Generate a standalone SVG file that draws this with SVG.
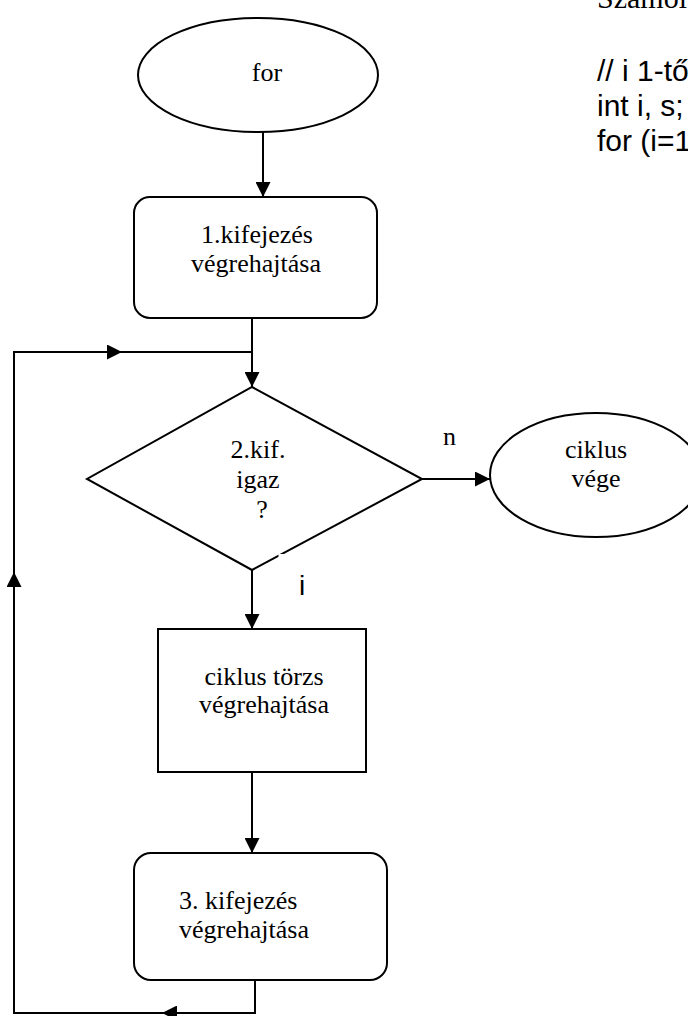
<svg xmlns="http://www.w3.org/2000/svg" width="688" height="1016" viewBox="0 0 688 1016">
  <style>
    .shape { fill: #ffffff; stroke: #000000; stroke-width: 2; }
    .line { fill: none; stroke: #000000; stroke-width: 2; }
    .label { font-family: "Liberation Serif", "Times New Roman", serif; font-size: 26px; fill: #000000; }
    .mid { text-anchor: middle; }
    .code { font-family: "Liberation Sans", Arial, sans-serif; font-size: 30px; fill: #000000; }
    .body { font-family: "Liberation Serif", "Times New Roman", serif; font-size: 30px; fill: #000000; }
  </style>
  <defs>
    <marker id="arrow" viewBox="0 0 15 15" refX="15" refY="7.5" markerWidth="15" markerHeight="15" markerUnits="userSpaceOnUse" orient="auto">
      <path d="M0,0 L15,7.5 L0,15 z" fill="#000000"/>
    </marker>
  </defs>

  <rect width="688" height="1016" fill="#ffffff"/>

  <!-- side text -->
  <g id="side-text">
    <text class="body" x="597" y="8">Számol</text>
    <text class="code" x="597" y="81">// i 1-tő</text>
    <text class="code" x="597" y="116">int i, s;</text>
    <text class="code" x="597" y="151">for (i=1</text>
  </g>

  <!-- connectors -->
  <g id="connectors">
    <path class="line" d="M263,132 L263,197" marker-end="url(#arrow)"/>
    <path class="line" d="M252,318 L252,387" marker-end="url(#arrow)"/>
    <path class="line" d="M422,479 L490,479" marker-end="url(#arrow)"/>
    <path class="line" d="M252,570 L252,629" marker-end="url(#arrow)"/>
    <path class="line" d="M252,772 L252,853" marker-end="url(#arrow)"/>
    <!-- loop back from step 3 to the condition -->
    <path class="line" d="M255,980 L255,1013 L162,1013" marker-end="url(#arrow)"/>
    <path class="line" d="M162,1013 L14,1013 L14,572" marker-end="url(#arrow)"/>
    <path class="line" d="M14,572 L14,352 L122,352" marker-end="url(#arrow)"/>
    <path class="line" d="M122,352 L252,352"/>
  </g>

  <g id="start">
    <ellipse class="shape" cx="258" cy="75" rx="120" ry="57"/>
    <text class="label mid" x="267" y="81">for</text>
  </g>

  <g id="init">
    <rect class="shape" x="134" y="197" width="243" height="121" rx="16" ry="16"/>
    <text class="label mid" x="257" y="243">1.kifejezés</text>
    <text class="label mid" x="256" y="272">végrehajtása</text>
  </g>

  <g id="condition">
    <polygon class="shape" points="252,387 422,479 252,570 87,479"/>
    <text class="label mid" x="258" y="458">2.kif.</text>
    <text class="label mid" x="258" y="488">igaz</text>
    <text class="label mid" x="262" y="518">?</text>
  </g>

  <g id="label-n">
    <text class="label" x="443" y="445">n</text>
  </g>

  <g id="label-i">
    <rect x="278.5" y="554" width="50" height="44" fill="#ffffff"/>
    <text class="code" x="299" y="595" style="font-size:28px">i</text>
  </g>

  <g id="end">
    <ellipse class="shape" cx="596" cy="475" rx="106" ry="62"/>
    <text class="label mid" x="596" y="458">ciklus</text>
    <text class="label mid" x="596" y="487">vége</text>
  </g>

  <g id="body">
    <rect class="shape" x="158" y="629" width="208" height="143"/>
    <text class="label mid" x="264" y="685">ciklus törzs</text>
    <text class="label mid" x="264" y="713">végrehajtása</text>
  </g>

  <g id="step">
    <rect class="shape" x="134" y="853" width="253" height="127" rx="17" ry="17"/>
    <text class="label" x="179" y="909">3. kifejezés</text>
    <text class="label" x="179" y="938">végrehajtása</text>
  </g>
</svg>
